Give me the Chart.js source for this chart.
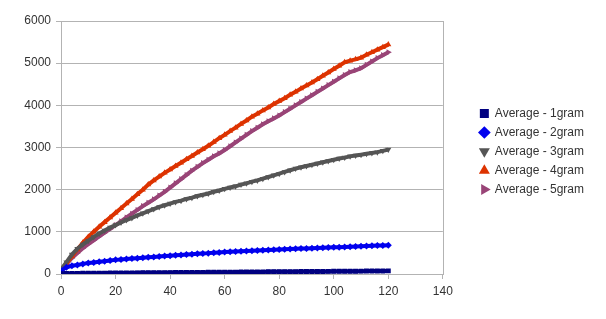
<!DOCTYPE html>
<html>
<head>
<meta charset="utf-8">
<script src="https://cdn.jsdelivr.net/npm/chart.js@4.4.1/dist/chart.umd.min.js"></script>
<style>
  html, body { margin: 0; padding: 0; background: #fff; }
  #wrap { width: 606px; height: 319px; position: relative; }
</style>
</head>
<body>
<div id="wrap"><canvas id="chart"></canvas></div>
<script>
// ─── DATA ─────────────────────────────────────────────────────
const xValues = [0,2,4,6,8,10,12,14,16,18,20,22,24,26,28,30,32,34,36,38,40,42,44,46,48,50,52,54,56,58,
  60,62,64,66,68,70,72,74,76,78,80,82,84,86,88,90,92,94,96,98,100,102,104,106,108,110,112,114,116,118,120];

const gram1 = [8,12,14,15,17,18,19,20,21,22,23,24,25,26,27,28,29,30,31,32,33,34,35,36,37,38,39,40,41,42,
  43,44,45,46,47,48,49,50,51,52,53,54,55,56,57,58,59,60,61,62,63,64,65,66,67,68,70,71,72,73,74];
const gram2 = [80,160,195,215,240,260,275,290,305,320,335,345,355,365,375,385,395,405,415,425,435,443,452,460,470,480,488,495,505,512,
  520,527,533,540,546,552,558,563,570,576,582,587,592,597,602,607,612,617,622,627,632,637,642,647,652,657,663,668,673,678,684];
const gram3 = [100,280,460,600,700,790,880,960,1030,1100,1160,1220,1280,1330,1390,1440,1490,1540,1590,1630,1670,1710,1740,1780,1810,1850,1880,1910,1950,1980,
  2020,2050,2080,2120,2150,2190,2220,2260,2300,2340,2380,2420,2460,2500,2530,2560,2590,2620,2650,2680,2710,2740,2760,2790,2810,2830,2850,2870,2890,2920,2950];
const gram4 = [100,250,420,580,740,880,1000,1120,1230,1340,1450,1560,1670,1780,1890,2000,2120,2220,2310,2400,2480,2560,2640,2720,2800,2880,2960,3040,3130,3220,
  3300,3390,3470,3560,3640,3730,3800,3880,3950,4030,4100,4170,4250,4320,4400,4470,4540,4620,4700,4780,4860,4940,5020,5060,5090,5130,5200,5260,5320,5380,5440];
const gram5 = [50,230,380,500,610,710,800,890,980,1070,1160,1250,1340,1430,1520,1610,1690,1770,1860,1950,2050,2150,2250,2350,2450,2540,2630,2710,2790,2860,
  2940,3030,3120,3210,3300,3390,3470,3550,3620,3690,3760,3840,3920,4000,4080,4160,4240,4320,4400,4480,4560,4640,4720,4790,4830,4880,4960,5040,5120,5190,5260];

const seriesNames = ['Average - 1gram','Average - 2gram','Average - 3gram','Average - 4gram','Average - 5gram'];
const seriesData = [gram1, gram2, gram3, gram4, gram5];
const seriesColors = ['#000080','#0000ee','#555555','#dd3300','#994477'];
const seriesPoints = ['rect','rectRot','triangle','triangle','triangle'];
const seriesRotation = [0, 0, 180, 0, 90];

const gridColor = '#b3b3b3';
const tickFont = { family: "'Liberation Sans', Arial, sans-serif", size: 12 };

// border around plot area
const plotBorder = {
  id: 'plotBorder',
  beforeDatasetsDraw(chart) {
    const { ctx, chartArea: a } = chart;
    ctx.save();
    ctx.strokeStyle = gridColor;
    ctx.lineWidth = 1;
    ctx.strokeRect(Math.round(a.left) + 0.5, Math.round(a.top) + 0.5, Math.round(a.right - a.left), Math.round(a.bottom - a.top));
    ctx.restore();
  }
};

// push the legend away from the plot, like the original
const legendShift = {
  id: 'legendShift',
  afterLayout(chart) {
    chart.legend.left += 30;
    chart.legend.right += 30;
    chart.legend.top += 4;
    chart.legend.bottom += 4;
  }
};

new Chart(document.getElementById('chart'), {
  type: 'scatter',
  data: {
    datasets: seriesData.map((ys, i) => ({
      label: seriesNames[i],
      data: ys.map((y, j) => ({ x: xValues[j], y })),
      showLine: true,
      borderColor: seriesColors[i],
      backgroundColor: seriesColors[i],
      borderWidth: 4,
      pointStyle: seriesPoints[i],
      pointRotation: seriesRotation[i],
      pointRadius: 3.5,
      pointBorderWidth: 0,
      pointHoverRadius: 3.5
    }))
  },
  plugins: [plotBorder, legendShift],
  options: {
    responsive: true, maintainAspectRatio: false, animation: false,
    layout: { padding: { top: 21, left: 0, right: 42, bottom: 0 } },
    plugins: {
      tooltip: { enabled: false },
      legend: {
        position: 'right', fullSize: false,
        labels: {
          usePointStyle: true, boxWidth: 9, boxHeight: 9, padding: 7,
          color: '#333', font: tickFont
        }
      }
    },
    scales: {
      x: {
        type: 'linear', min: 0, max: 140,
        afterFit: s => { s.height = 45; },
        grid: { display: true, drawOnChartArea: false, color: gridColor, tickLength: 5 },
        border: { color: gridColor },
        ticks: { stepSize: 20, color: '#333', font: tickFont, padding: 5 }
      },
      y: {
        min: 0, max: 6000,
        afterFit: s => { s.width = 61; },
        grid: { color: gridColor, tickLength: 5 },
        border: { color: gridColor },
        ticks: { stepSize: 1000, color: '#333', font: tickFont, padding: 5, callback: v => String(v) }
      }
    }
  }
});
</script>
</body>
</html>
